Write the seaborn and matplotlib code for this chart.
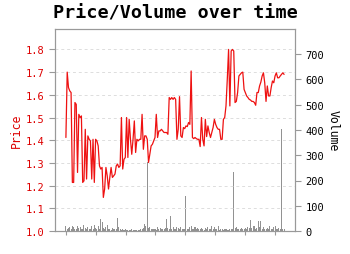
import numpy as np
import pandas as pd
import matplotlib
matplotlib.use("Agg")
import matplotlib.pyplot as plt
import seaborn as sns

# ---- data ----
price = [
    1.412, 1.700, 1.632, 1.617, 1.610, 1.214, 1.214, 1.566, 1.558, 1.258,
    1.514, 1.500, 1.507, 1.214, 1.221, 1.448, 1.229, 1.419, 1.404, 1.397,
    1.229, 1.404, 1.214, 1.404, 1.397, 1.375, 1.287, 1.273, 1.280, 1.148,
    1.185, 1.280, 1.243, 1.185, 1.236, 1.280, 1.236, 1.243, 1.251, 1.287,
    1.295,
    1.280, 1.287, 1.500, 1.273, 1.316, 1.324, 1.500, 1.324, 1.492, 1.404,
    1.338, 1.404, 1.485, 1.346, 1.404, 1.397, 1.404, 1.404, 1.514, 1.360,
    1.419, 1.419, 1.404, 1.302, 1.338, 1.375, 1.382, 1.397, 1.412, 1.514,
    1.412, 1.441, 1.441, 1.448, 1.441, 1.434, 1.434, 1.434, 1.426, 1.588,
    1.580, 1.588, 1.580, 1.588,
    1.580, 1.404, 1.448, 1.592, 1.419, 1.412, 1.456, 1.451, 1.463, 1.460,
    1.478, 1.470, 1.705, 1.412, 1.407, 1.412, 1.407, 1.404, 1.404, 1.372,
    1.500, 1.404, 1.375, 1.492, 1.416, 1.463, 1.434, 1.412, 1.434, 1.456,
    1.492, 1.470, 1.456, 1.448, 1.448, 1.404, 1.404, 1.492, 1.500, 1.551,
    1.668, 1.800,
    1.551, 1.793, 1.800, 1.793, 1.566, 1.571, 1.610, 1.683, 1.690, 1.697,
    1.700, 1.624, 1.610, 1.595, 1.588, 1.580, 1.577, 1.571, 1.571, 1.566,
    1.554, 1.610, 1.610, 1.639, 1.656, 1.683, 1.697, 1.653, 1.571, 1.639,
    1.595, 1.595, 1.632, 1.661, 1.653, 1.683, 1.697, 1.675, 1.675, 1.683,
    1.690, 1.697, 1.690,
]

volume = [
    21, 8, 10, 17, 6, 18, 17, 9, 7, 21,
    12, 15, 8, 6, 24, 10, 7, 15, 9, 6,
    21, 8, 24, 11, 7, 18, 9, 48, 34, 10,
    6, 15, 25, 9, 8, 5, 12, 7, 6, 9,
    51, 15, 6, 5, 8, 4, 6, 4, 5, 3,
    4, 6, 3, 5, 4, 3, 5, 4, 6, 9,
    12, 28, 21, 272, 10, 15, 8, 6, 9, 7,
    5, 15, 8, 11, 6, 9, 7, 12, 48, 10,
    8, 61, 9, 15, 7, 6, 15, 11, 8, 15,
    6, 9, 7, 140, 8, 6, 15, 18, 9, 7,
    15, 8, 11, 6, 9, 12, 7, 5, 11, 8,
    15, 9, 7, 18, 8, 17, 6, 9, 18, 5,
    6, 8, 5, 7, 6, 4, 5, 8, 6, 9,
    232, 10, 15, 8, 6, 9, 11, 7, 8, 12,
    9, 15, 10, 44, 12, 21, 18, 9, 11, 41,
    14, 41, 8, 15, 7, 9, 12, 6, 21, 8,
    9, 17, 21, 7, 6, 11, 8, 405, 6, 8,
]

price_ticks = [1.0, 1.1, 1.2, 1.3, 1.4, 1.5, 1.6, 1.7, 1.8]
volume_ticks = [0, 100, 200, 300, 400, 500, 600, 700]

df = pd.DataFrame({"t": np.arange(len(price)), "price": price, "volume": volume})

sns.set_theme(style="white")
mono = "DejaVu Sans Mono"
plt.rcParams["font.family"] = [mono, "DejaVu Sans"]
plt.rcParams["text.color"] = "black"
plt.rcParams["axes.labelcolor"] = "black"

fig = plt.figure(figsize=(3.5, 2.55), dpi=100)
ax = fig.add_axes([55 / 350, 1 - 232 / 255, 240 / 350, 202 / 255])
ax2 = ax.twinx()

# volume bars on the secondary axis
ax2.bar(df["t"], df["volume"], width=0.8, color="#777777", alpha=0.8,
        linewidth=0)
ax2.set_ylim(0, 800)
ax2.set_yticks(volume_ticks)
ax2.set_ylabel("Volume", rotation=270, labelpad=11, fontsize=8.3,
               color="black")

# price line on the primary axis, drawn above the bars
ax.set_zorder(ax2.get_zorder() + 1)
ax.patch.set_visible(False)
sns.lineplot(data=df, x="t", y="price", ax=ax, color="#ee1111", linewidth=0.9)
ax.set_ylim(1.0, 1.89)
ax.set_yticks(price_ticks)
ax.set_yticklabels([f"{v:.1f}" for v in price_ticks])
ax.set_ylabel("Price", color="#dd0000", fontsize=8.3, labelpad=2)
ax.set_xlabel("")
n = len(price)
step = (n - 1) * 29.7 / 217.3
ax.set_xticks(np.arange(0, n, step))
ax.set_xticklabels([])
ax.set_xlim(-0.05 * (n - 1), (n - 1) * 1.05)

ax.yaxis.grid(True, linestyle=(0, (3, 3)), color="#dddddd", linewidth=0.7)
ax.xaxis.grid(False)
ax2.grid(False)

for a in (ax, ax2):
    for s in a.spines.values():
        s.set_color("#999999")
        s.set_linewidth(0.8)
ax.tick_params(axis="y", colors="#999999", labelcolor="#dd0000",
               labelsize=7.5, length=4, width=0.8, direction="out", left=True)
ax.tick_params(axis="x", colors="#999999", length=3, width=0.8,
               direction="out", bottom=True)
ax2.tick_params(axis="y", colors="#999999", labelcolor="black",
                labelsize=7.5, length=4, width=0.8, direction="out", right=True)

fig.suptitle("Price/Volume over time", fontsize=13.2, fontweight="bold",
             family=mono, color="black", y=1 - 14 / 255, va="center")

fig.savefig("out.png", dpi=100)
